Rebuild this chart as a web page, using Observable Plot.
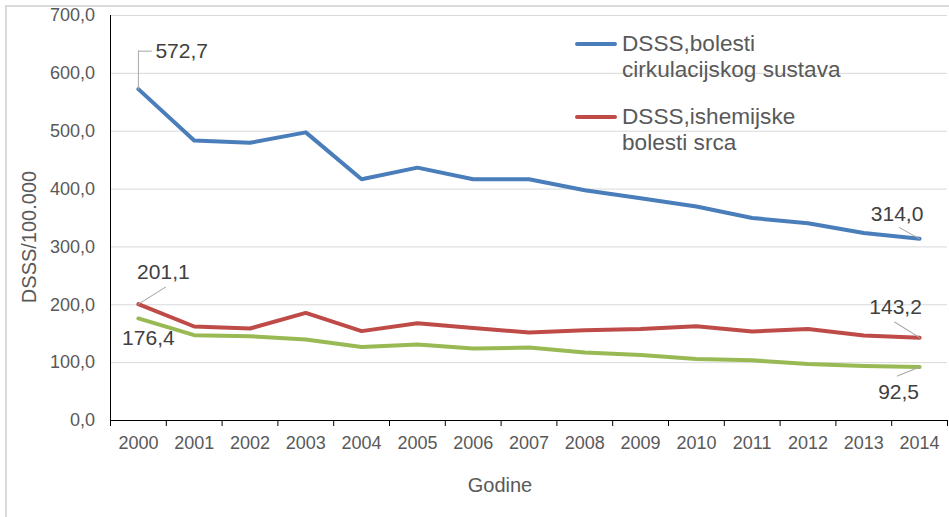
<!DOCTYPE html>
<html>
<head>
<meta charset="utf-8">
<script src="https://cdn.jsdelivr.net/npm/d3@7"></script>
<script src="https://cdn.jsdelivr.net/npm/@observablehq/plot@0.6"></script>
<style>
  html, body { margin: 0; padding: 0; background: #fff; }
  #wrap { position: relative; width: 949px; height: 517px; overflow: hidden; font-family: "Liberation Sans", Arial, sans-serif; }
  #frame { position: absolute; left: 5px; top: 5px; width: 960px; height: 530px; border-left: 2px solid #d9d9d9; border-top: 2px solid #d9d9d9; box-sizing: border-box; }
  #chart { position: absolute; left: 0; top: 0; }
  .leg-sw { position: absolute; height: 4px; width: 42px; border-radius: 2px; }
  .leg-tx { position: absolute; font-size: 22.6px; line-height: 26px; color: #595959; white-space: nowrap; }
</style>
</head>
<body>
<div id="wrap">
  <div id="frame"></div>
  <div id="chart"></div>
</div>
<script>
// ---- data ----
const years = [2000, 2001, 2002, 2003, 2004, 2005, 2006, 2007, 2008, 2009, 2010, 2011, 2012, 2013, 2014];
const seriesNames = [
  "DSSS,bolesti cirkulacijskog sustava",
  "DSSS,ishemijske bolesti srca",
  "DSSS,cerebrovaskularne bolesti"
];
const circulatory = [572.7, 484, 480, 498, 417, 437, 417, 417, 398, 384, 370, 350, 341, 324, 314.0];
const ischemic    = [201.1, 162.5, 159, 186, 154.5, 168, 160, 152, 156, 158, 163, 154, 158, 147, 143.2];
const third       = [176.4, 147.5, 145.8, 140, 127, 131.5, 124.5, 126, 117.6, 113, 106.5, 104, 97.5, 94, 92.5];
const yTicks = [0, 100, 200, 300, 400, 500, 600, 700];
const legendLines = [["DSSS,bolesti", "cirkulacijskog sustava"], ["DSSS,ishemijske", "bolesti srca"]];
const yTitle = "DSSS/100.000";
const xTitle = "Godine";

// ---- styles ----
const colors = ["#4A7EBB", "#BE4B48", "#98B954"];
const FONT = '"Liberation Sans", Arial, sans-serif';
const fmt = v => v.toFixed(1).replace(".", ",");

const valuesBySeries = [circulatory, ischemic, third];
const rows = [];
valuesBySeries.forEach((vals, s) => vals.forEach((v, i) => rows.push({series: seriesNames[s], year: years[i], value: v})));
const boundaries = years.map(y => y - 0.5).concat([years[years.length - 1] + 0.5]);
const pt = (s, i) => [{year: years[i], value: valuesBySeries[s][i]}];
const last = years.length - 1;

const seg = {draw(ctx, l) { ctx.moveTo(0, 0); ctx.lineTo(0, -l); }};
const leader = (data, length, rotate, extra = {}) =>
  Plot.vector(data, {x: "year", y: "value", length, rotate, anchor: "start", shape: seg, stroke: "#a6a6a6", strokeWidth: 1, ...extra});
const label = (data, dx, dy, extra = {}) =>
  Plot.text(data, {x: "year", y: "value", text: d => fmt(d.value), dx, dy, fontSize: 21, fill: "#404040", ...extra});

const chart = Plot.plot({
  width: 949, height: 517,
  marginLeft: 110, marginRight: 2, marginTop: 15, marginBottom: 97,
  style: {fontFamily: FONT, background: "transparent", overflow: "visible"},
  x: {domain: [years[0] - 0.5, years[last] + 0.5], axis: null, label: null},
  y: {domain: [0, 700], axis: null, label: null},
  color: {domain: seriesNames, range: colors},
  marks: [
    Plot.gridY(yTicks, {stroke: "#d9d9d9", strokeOpacity: 1, strokeWidth: 1}),
    Plot.axisY(yTicks, {tickSize: 0, tickPadding: 15.5, tickFormat: fmt, fontSize: 18, fill: "#595959", label: null}),
    Plot.axisX(years, {tickSize: 0, tickPadding: 16, tickFormat: d => String(d), fontSize: 18, fill: "#595959", label: null}),
    Plot.axisX(boundaries, {tickSize: 6, tickFormat: () => "", stroke: "#000", strokeOpacity: 1, label: null}),
    Plot.ruleY([0], {stroke: "#000", strokeWidth: 1}),
    Plot.ruleX([years[0] - 0.5], {stroke: "#000", strokeWidth: 1}),
    Plot.line(rows, {x: "year", y: "value", z: "series", stroke: "series", strokeWidth: 4, strokeLinejoin: "round", strokeLinecap: "round"}),
    // leaders
    leader(pt(0, 0), 38, 0),
    leader(pt(0, 0), 13, 90, {dy: -38}),
    leader(pt(1, 0), 32, 58),
    leader(pt(0, last), 23, -61),
    leader(pt(1, last), 29.5, -58),
    leader(pt(2, last), 24, -112),
    // data labels
    label(pt(0, 0), 17, -37.6, {textAnchor: "start"}),
    label(pt(1, 0), 25, -32),
    label(pt(2, 0), 10, 20),
    label(pt(0, last), -22.5, -25),
    label(pt(1, last), -24, -30),
    label(pt(2, last), -21, 25.5),
    // axis titles
    Plot.text([yTitle], {frameAnchor: "left", text: d => d, rotate: -90, textAnchor: "middle", lineAnchor: "middle", dx: -81, dy: 19, fontSize: 20, fill: "#595959"}),
    Plot.text([xTitle], {frameAnchor: "bottom", text: d => d, textAnchor: "middle", lineAnchor: "middle", dx: -29, dy: 65.5, fontSize: 20, fill: "#595959"})
  ]
});
document.getElementById("chart").appendChild(chart);

// ---- legend (inside plot area, top right) ----
const wrap = document.getElementById("wrap");
const legendPos = [{sw: 42.3, tx: 31.2}, {sw: 114.7, tx: 103.5}];
legendLines.forEach((lines, i) => {
  const sw = document.createElement("div");
  sw.className = "leg-sw";
  sw.style.left = "575px";
  sw.style.top = legendPos[i].sw + "px";
  sw.style.background = colors[i];
  wrap.appendChild(sw);
  const tx = document.createElement("div");
  tx.className = "leg-tx";
  tx.style.left = "622px";
  tx.style.top = legendPos[i].tx + "px";
  tx.innerHTML = lines.map(l => l.replace(/&/g, "&amp;").replace(/</g, "&lt;")).join("<br>");
  wrap.appendChild(tx);
});
</script>
</body>
</html>
